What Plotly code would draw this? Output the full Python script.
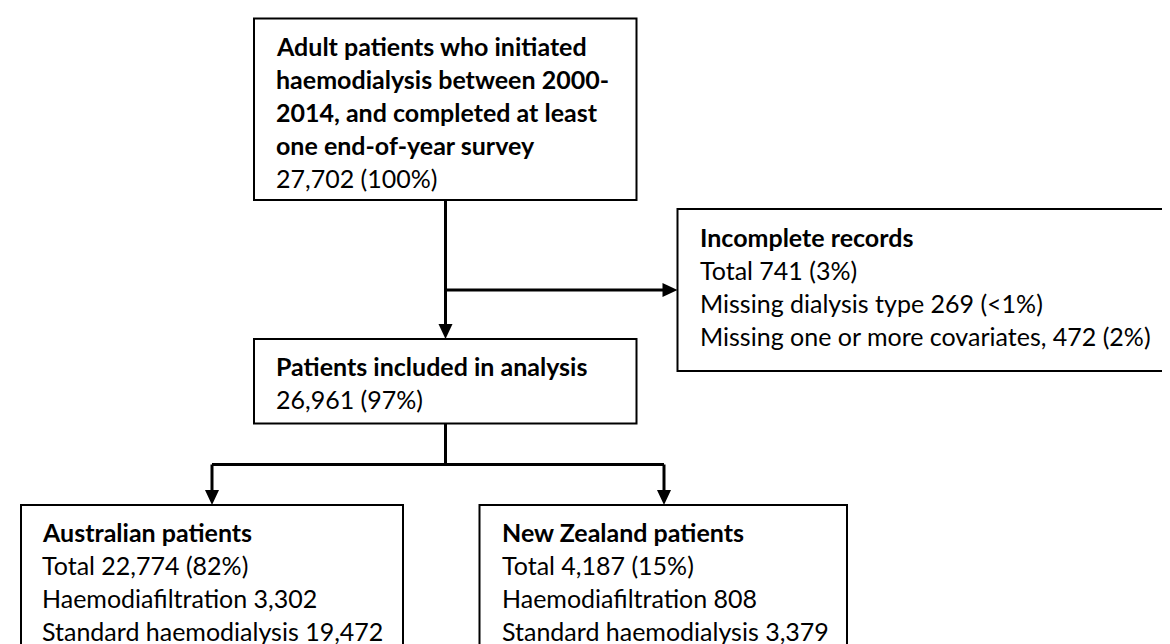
import plotly.graph_objects as go

# ---- content (data) ----
cohort_lines = ["Adult patients who initiated", "haemodialysis between 2000-",
                "2014, and completed at least", "one end-of-year survey", "27,702 (100%)"]
cohort_bold = 4
excluded_lines = ["Incomplete records", "Total 741 (3%)", "Missing dialysis type 269 (<1%)",
                  "Missing one or more covariates, 472 (2%)"]
excluded_bold = 1
included_lines = ["Patients included in analysis", "26,961 (97%)"]
included_bold = 1
aus_lines = ["Australian patients", "Total 22,774 (82%)", "Haemodiafiltration 3,302",
             "Standard haemodialysis 19,472"]
aus_bold = 1
nz_lines = ["New Zealand patients", "Total 4,187 (15%)", "Haemodiafiltration 808",
            "Standard haemodialysis 3,379"]
nz_bold = 1

# ---- layout geometry (pixels, y downward) ----
W, H = 1170, 644
FONT = "Lato"
FS = 25
LS = 33  # line spacing

boxes = [
    dict(lines=cohort_lines, nb=cohort_bold, x0=246, y0=10.5, x1=628.5, y1=192, tx=266, ty=38),
    dict(lines=excluded_lines, nb=excluded_bold, x0=669.5, y0=201, x1=1168, y1=363, tx=690, ty=229),
    dict(lines=included_lines, nb=included_bold, x0=246, y0=331, x1=628.5, y1=415.5, tx=266, ty=358),
    dict(lines=aus_lines, nb=aus_bold, x0=13, y0=497, x1=395, y1=643, tx=32, ty=524),
    dict(lines=nz_lines, nb=nz_bold, x0=471.5, y0=497, x1=839, y1=643, tx=492, ty=524),
]

fig = go.Figure()
shapes = []
annotations = []
for b in boxes:
    shapes.append(dict(type="rect", xref="x", yref="y", x0=b["x0"], y0=b["y0"], x1=b["x1"], y1=b["y1"],
                       line=dict(color="#000000", width=2), fillcolor="rgba(0,0,0,0)"))
    for i, t in enumerate(b["lines"]):
        txt = f"<b>{t}</b>" if i < b["nb"] else t
        annotations.append(dict(x=b["tx"], y=b["ty"] + i * LS, xref="x", yref="y", text=txt,
                                showarrow=False, xanchor="left", yanchor="middle",
                                font=dict(family=FONT, size=FS, color="#000000")))

LW = 3
trunk_x = 437.5
branch_y = 282
split_y = 456.5
left_x, right_x = 204, 656
b1, b2, b3, b4, b5 = boxes

def seg(xa, ya, xb, yb):
    shapes.append(dict(type="line", xref="x", yref="y", x0=xa, y0=ya, x1=xb, y1=yb,
                       line=dict(color="#000000", width=LW)))

def down_head(x, ytip, w=7, h=15):
    shapes.append(dict(type="path", xref="x", yref="y",
                       path=f"M {x-w},{ytip-h} L {x+w},{ytip-h} L {x},{ytip} Z",
                       fillcolor="#000000", line=dict(color="#000000", width=0)))

def right_head(xtip, y, w=7, h=15):
    shapes.append(dict(type="path", xref="x", yref="y",
                       path=f"M {xtip-h},{y-w} L {xtip-h},{y+w} L {xtip},{y} Z",
                       fillcolor="#000000", line=dict(color="#000000", width=0)))

# cohort -> included, with side branch to excluded
seg(trunk_x, b1["y1"], trunk_x, b3["y0"] - 14)
down_head(trunk_x, b3["y0"])
seg(trunk_x, branch_y, b2["x0"] - 14, branch_y)
right_head(b2["x0"], branch_y)
# included -> split
seg(trunk_x, b3["y1"], trunk_x, split_y)
seg(left_x, split_y, right_x, split_y)
seg(left_x, split_y, left_x, b4["y0"] - 14)
seg(right_x, split_y, right_x, b5["y0"] - 14)
down_head(left_x, b4["y0"])
down_head(right_x, b5["y0"])

fig.update_layout(
    width=W, height=H, margin=dict(l=0, r=0, t=0, b=0),
    paper_bgcolor="#ffffff", plot_bgcolor="#ffffff",
    xaxis=dict(range=[0, W], visible=False, fixedrange=True),
    yaxis=dict(range=[H, 0], visible=False, fixedrange=True),
    shapes=shapes, annotations=annotations, showlegend=False,
)
fig.write_html("out.html")
